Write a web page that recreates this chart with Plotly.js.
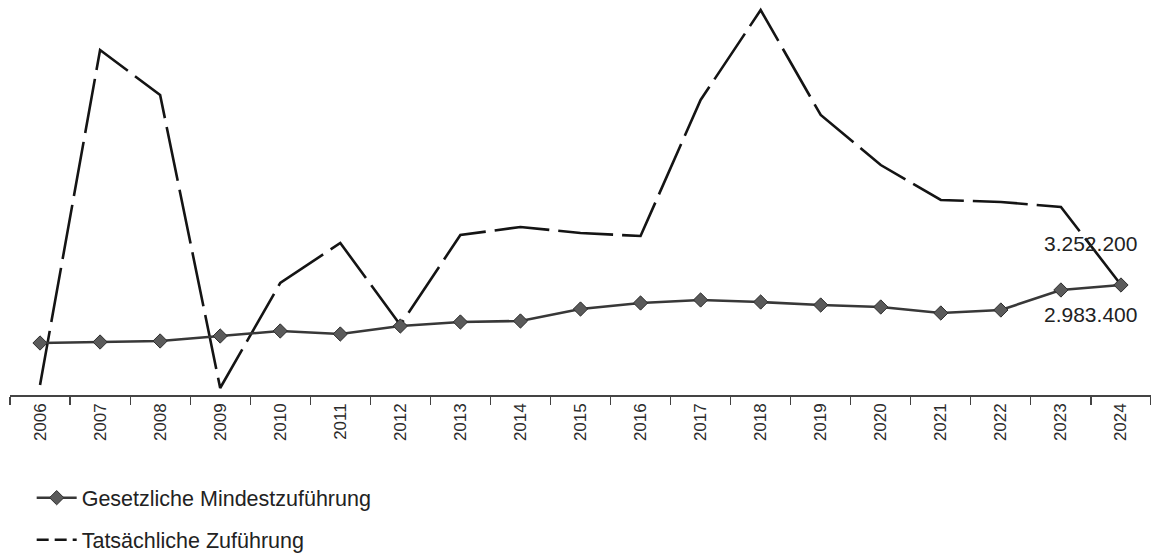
<!DOCTYPE html>
<html>
<head>
<meta charset="utf-8">
<script src="https://cdn.plot.ly/plotly-3.0.1.min.js"></script>
<style>html,body{margin:0;padding:0;background:#fff;}#chart{width:1151px;height:553px;}</style>
</head>
<body>
<div id="chart"></div>
<script>
const years = ['2006','2007','2008','2009','2010','2011','2012','2013','2014','2015','2016','2017','2018','2019','2020','2021','2022','2023','2024'];
const gesetzlich = [1410000,1437000,1465000,1600000,1736000,1654000,1871000,1980000,2007000,2332000,2495000,2577000,2522000,2441000,2387000,2224000,2305000,2848000,2983400];
const tatsaechlich = [271000,9357000,8137000,190000,3038000,4123000,1899000,4340000,4557000,4394000,4312000,8001000,10442000,7594000,6238000,5289000,5235000,5099000,2990000];
const seriesNames = ['Gesetzliche Mindestzuführung','Tatsächliche Zuführung'];
const endLabels = ['3.252.200','2.983.400'];

const font = 'Liberation Sans, Arial, sans-serif';
const last = years.length - 1;

const traces = [
  {
    x: years, y: tatsaechlich, name: seriesNames[1], type: 'scatter', mode: 'lines',
    line: {color: '#141414', width: 2.6, dash: '55px,9px'},
    showlegend: false
  },
  {
    x: [years[0]], y: [null], name: seriesNames[1], type: 'scatter', mode: 'lines',
    line: {color: '#141414', width: 2.6, dash: '12px,6px'},
    legend: 'legend2', showlegend: true, hoverinfo: 'skip'
  },
  {
    x: years, y: gesetzlich, name: seriesNames[0], type: 'scatter', mode: 'lines+markers',
    line: {color: '#383838', width: 2.6},
    marker: {symbol: 'diamond', size: 11, color: '#5a5a5a', line: {color: '#2e2e2e', width: 1}},
    legend: 'legend'
  }
];

const layout = {
  width: 1151, height: 553,
  margin: {l: 10, r: 0, t: 5, b: 158},
  paper_bgcolor: '#fff', plot_bgcolor: '#fff',
  font: {family: font, color: '#222'},
  showlegend: true,
  xaxis: {
    type: 'category', range: [-0.5, 18.5],
    tickson: 'boundaries', ticks: 'outside', ticklen: 8, tickcolor: '#444', tickwidth: 1.2,
    showline: true, linecolor: '#444', linewidth: 1.5,
    showgrid: false, zeroline: false,
    tickangle: -90, tickfont: {family: font, size: 17, color: '#2a2a2a'}
  },
  yaxis: {
    range: [0, 10577580], showticklabels: false, showline: false, ticks: '', showgrid: false, zeroline: false
  },
  legend: {
    x: 0.019, y: 0.1, xanchor: 'left', yanchor: 'middle', xref: 'paper', yref: 'container',
    font: {family: font, size: 21.5, color: '#222'}, bgcolor: 'rgba(0,0,0,0)', itemwidth: 40
  },
  legend2: {
    x: 0.019, y: 0.024, xanchor: 'left', yanchor: 'middle', xref: 'paper', yref: 'container',
    font: {family: font, size: 21.5, color: '#222'}, bgcolor: 'rgba(0,0,0,0)', itemwidth: 40
  },
  annotations: [
    {x: last, y: gesetzlich[last], xref: 'x', yref: 'y', text: endLabels[0], showarrow: false,
     xanchor: 'center', yanchor: 'middle', xshift: -30, yshift: 42, font: {family: font, size: 21, color: '#222'}},
    {x: last, y: gesetzlich[last], xref: 'x', yref: 'y', text: endLabels[1], showarrow: false,
     xanchor: 'center', yanchor: 'middle', xshift: -30, yshift: -29, font: {family: font, size: 21, color: '#222'}}
  ]
};

Plotly.newPlot('chart', traces, layout, {displayModeBar: false, staticPlot: true});
</script>
</body>
</html>
